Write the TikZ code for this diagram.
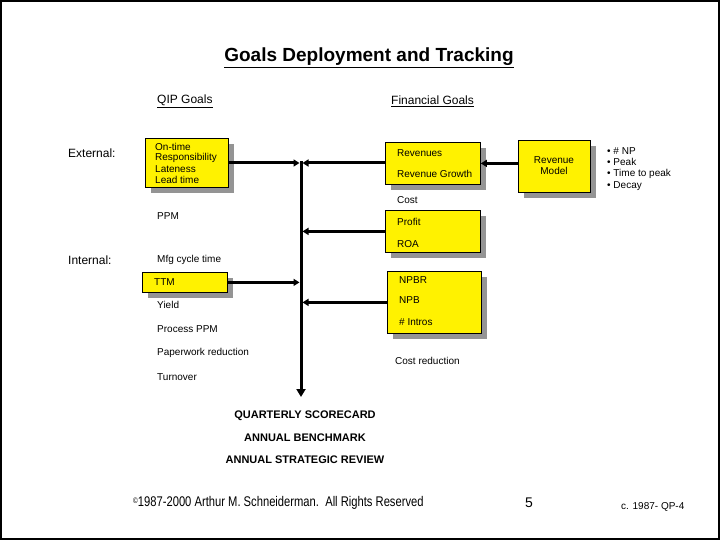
\documentclass[tikz,border=0pt]{standalone}
\usepackage{fontspec}
\setmainfont{Liberation Sans}
\usetikzlibrary{shadows,arrows.meta}
\begin{document}
\begin{tikzpicture}[x=1pt,y=-1pt,
  ybox/.style={draw=black,line width=0.8pt,fill=yellow,inner sep=0pt,anchor=north west,
    drop shadow={shadow xshift=6pt,shadow yshift=-6pt,fill=black!42,opacity=1}},
  lbl/.style={anchor=west,inner sep=0pt,font=\fontsize{10}{11}\selectfont},
  txt/.style={anchor=west,inner sep=0pt,font=\fontsize{10}{12}\selectfont},
  hdr/.style={anchor=west,inner sep=0pt,font=\fontsize{12}{13}\selectfont},
  bld/.style={inner sep=0pt,font=\fontsize{11}{12}\selectfont\bfseries},
  conn/.style={line width=3pt,-{Triangle[length=6pt,width=7pt]}},
  trunk/.style={line width=3pt,-{Triangle[length=8pt,width=9pt]}}]
\useasboundingbox (0,0) rectangle (720,540);
\draw[line width=2pt] (1,1) rectangle (719,539);
% title and headers
\node[inner sep=0pt,font=\fontsize{19}{20}\selectfont\bfseries] (title) at (369,58) {\underline{Goals Deployment and Tracking}};
\node[hdr] (qip) at (157,101) {\underline{QIP Goals}};
\node[hdr] (fin) at (391,101) {\underline{Financial Goals}};
\node[anchor=west,inner sep=0pt,font=\fontsize{12}{13}\selectfont] (ext) at (68,153) {External:};
\node[anchor=west,inner sep=0pt,font=\fontsize{12}{13}\selectfont] (int) at (68,260) {Internal:};
% boxes
\node[ybox,minimum width=83pt,minimum height=49pt] (b1) at (145,138) {};
\node[lbl] (t1a) at (155,147) {On-time};
\node[lbl] (t1b) at (155,158) {Responsibility};
\node[lbl] (t1c) at (155,169) {Lateness};
\node[lbl] (t1d) at (155,180) {Lead time};
\node[ybox,minimum width=95pt,minimum height=42pt] (rev) at (385,142) {};
\node[lbl] (t2a) at (397,153) {Revenues};
\node[lbl] (t2b) at (397,174) {Revenue Growth};
\node[ybox,minimum width=72pt,minimum height=52pt] (rm) at (518,140) {};
\node[inner sep=0pt,align=center,font=\fontsize{10}{11}\selectfont] (rmt) at (554,166) {Revenue\\Model};
\node[lbl] (bu1) at (607,151) {• \# NP};
\node[lbl] (bu2) at (607,162) {• Peak};
\node[lbl] (bu3) at (607,174) {• Time to peak};
\node[lbl] (bu4) at (607,186) {• Decay};
\node[lbl] (cost) at (397,200) {Cost};
\node[txt] (ppm) at (157,216) {PPM};
\node[ybox,minimum width=95pt,minimum height=42pt] (pr) at (385,210) {};
\node[lbl] (t3a) at (397,222) {Profit};
\node[lbl] (t3b) at (397,244) {ROA};
\node[txt] (mfg) at (157,260) {Mfg cycle time};
\node[ybox,minimum width=85pt,minimum height=20pt] (ttm) at (142,272) {};
\node[lbl] (t4) at (154,282) {TTM};
\node[ybox,minimum width=94pt,minimum height=62pt] (np) at (387,271) {};
\node[lbl] (t5a) at (399,280) {NPBR};
\node[lbl] (t5b) at (399,300) {NPB};
\node[lbl] (t5c) at (399,322) {\# Intros};
\node[txt] (yld) at (157,305) {Yield};
\node[txt] (pppm) at (157,329) {Process PPM};
\node[txt] (pwr) at (157,353) {Paperwork reduction};
\node[txt] (cred) at (395,361) {Cost reduction};
\node[txt] (turn) at (157,377) {Turnover};
% connectors
\coordinate (vtop) at (301,163);
\coordinate (vbot) at (301,397);
\draw[trunk] (301,161.5) -- (vbot);
\draw[conn,shorten >=1.5pt] (b1.east |- vtop) -- (vtop);
\draw[conn,shorten >=1.5pt] (rev.west |- vtop) -- (vtop);
\draw[conn] (rm.west |- rev.east) -- (rev.east);
\draw[conn,shorten >=1.5pt] (pr.west) -- (vtop |- pr.west);
\draw[conn,shorten >=1.5pt] (ttm.east) -- (vtop |- ttm.east);
\draw[conn,shorten >=1.5pt] (np.west) -- (vtop |- np.west);
% review texts
\node[bld] (qs) at (305,416) {QUARTERLY SCORECARD};
\node[bld] (ab) at (305,438) {ANNUAL BENCHMARK};
\node[bld] (asr) at (305,460) {ANNUAL STRATEGIC REVIEW};
% footer
\node[anchor=west,inner sep=0pt,font=\fontsize{14}{16}\selectfont] (copy) at (133,503) {\scalebox{0.8}[1]{\raisebox{3pt}{\fontsize{8}{8}\selectfont ©}1987-2000 Arthur M. Schneiderman.\ \ All Rights Reserved}};
\node[inner sep=0pt,font=\fontsize{14}{16}\selectfont] (pg) at (529,503) {5};
\node[anchor=west,inner sep=0pt,font=\fontsize{10}{11}\selectfont] (code) at (621,507) {c. 1987- QP-4};
\end{tikzpicture}
\end{document}
